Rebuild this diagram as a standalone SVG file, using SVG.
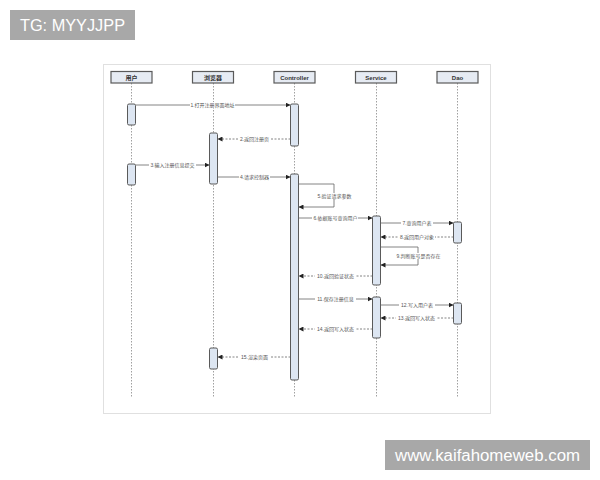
<svg xmlns="http://www.w3.org/2000/svg" width="600" height="480" viewBox="0 0 600 480">
<style>
.hdr{fill:#e6ebf3;stroke:#5a5a5a;stroke-width:1.2}
.ht{font-family:"Liberation Sans","Noto Sans CJK SC",sans-serif;font-size:6px;font-weight:bold;fill:#333;text-anchor:middle}
.life{stroke:#888;stroke-width:0.8;stroke-dasharray:1.5,1.5;fill:none}
.act{fill:#dde6f2;stroke:#5a5a5a;stroke-width:1}
.m{stroke:#666;stroke-width:0.8;fill:none}
.r{stroke:#666;stroke-width:0.8;fill:none;stroke-dasharray:2,1.5}
.lb{font-family:"Liberation Sans","Noto Sans CJK SC",sans-serif;font-size:5px;fill:#555;text-anchor:middle}
.lbg{fill:#fff}
.wm{fill:#a8a8a8}
.wt{font-family:"Liberation Sans",Arial,sans-serif;font-size:16px;fill:#fff}
</style>
<defs>
<marker id="ah" viewBox="0 0 6 6" refX="6" refY="3" markerWidth="5" markerHeight="5" orient="auto" markerUnits="userSpaceOnUse">
<path d="M0,0 L6,3 L0,6 z" fill="#222"/>
</marker>
</defs>
<rect x="0" y="0" width="600" height="480" fill="#fff"/>
<rect x="103.5" y="64.5" width="387" height="349" fill="#fff" stroke="#e0e0e0" stroke-width="1"/>

<g id="lifelines">
<line class="life" x1="131.5" y1="83" x2="131.5" y2="397"/>
<line class="life" x1="213.5" y1="83" x2="213.5" y2="397"/>
<line class="life" x1="294.5" y1="83" x2="294.5" y2="397"/>
<line class="life" x1="376.5" y1="83" x2="376.5" y2="397"/>
<line class="life" x1="457.5" y1="83" x2="457.5" y2="397"/>
</g>

<g id="user">
<rect class="hdr" x="111" y="71.5" width="41" height="11.5"/>
<text class="ht" x="131.5" y="79.5">用户</text>
<rect class="act" x="127.5" y="104" width="8" height="21" rx="1.5"/>
<rect class="act" x="127.5" y="164" width="8" height="21" rx="1.5"/>
</g>
<g id="browser">
<rect class="hdr" x="192.5" y="71.5" width="41" height="11.5"/>
<text class="ht" x="213" y="79.5">浏览器</text>
<rect class="act" x="209.5" y="133" width="8" height="51" rx="1.5"/>
<rect class="act" x="209.5" y="348" width="8" height="21" rx="1.5"/>
</g>
<g id="controller">
<rect class="hdr" x="274" y="71.5" width="41" height="11.5"/>
<text class="ht" x="294.5" y="79.5">Controller</text>
<rect class="act" x="290.5" y="104" width="8" height="42" rx="1.5"/>
<rect class="act" x="290.5" y="174" width="8" height="206" rx="1.5"/>
</g>
<g id="service">
<rect class="hdr" x="355.5" y="71.5" width="41" height="11.5"/>
<text class="ht" x="376" y="79.5">Service</text>
<rect class="act" x="372.5" y="216" width="8" height="69" rx="1.5"/>
<rect class="act" x="372.5" y="297" width="8" height="41" rx="1.5"/>
</g>
<g id="dao">
<rect class="hdr" x="437" y="71.5" width="41" height="11.5"/>
<text class="ht" x="457.5" y="79.5">Dao</text>
<rect class="act" x="453.5" y="222" width="8" height="21" rx="1.5"/>
<rect class="act" x="453.5" y="303" width="8" height="21" rx="1.5"/>
</g>

<g id="connectors">
<line class="m" x1="135.5" y1="105" x2="290.5" y2="105" marker-end="url(#ah)"/>
<rect class="lbg" x="190" y="102" width="45" height="6"/>
<text class="lb" x="212.5" y="106.8">1.打开注册界面地址</text>

<line class="r" x1="290.5" y1="139" x2="217.5" y2="139" marker-end="url(#ah)"/>
<rect class="lbg" x="239" y="136" width="31" height="6"/>
<text class="lb" x="254.5" y="140.8">2.返回注册页</text>

<line class="m" x1="135.5" y1="165" x2="209.5" y2="165" marker-end="url(#ah)"/>
<rect class="lbg" x="149" y="162" width="47" height="6"/>
<text class="lb" x="172.5" y="166.8">3.输入注册信息提交</text>

<line class="m" x1="217.5" y1="177" x2="290.5" y2="177" marker-end="url(#ah)"/>
<rect class="lbg" x="239" y="174" width="31" height="6"/>
<text class="lb" x="254.5" y="178.8">4.请求控制器</text>

<path class="m" d="M298.5,184 H334 V207 H298.5" marker-end="url(#ah)"/>
<rect class="lbg" x="317" y="193" width="35" height="6"/>
<text class="lb" x="334.5" y="197.8">5.验证请求参数</text>

<line class="m" x1="298.5" y1="218" x2="372.5" y2="218" marker-end="url(#ah)"/>
<rect class="lbg" x="312" y="215" width="46" height="6"/>
<text class="lb" x="335.5" y="219.8">6.依据账号查询用户</text>

<line class="m" x1="380.5" y1="223" x2="453.5" y2="223" marker-end="url(#ah)"/>
<rect class="lbg" x="401" y="220" width="32" height="6"/>
<text class="lb" x="417" y="224.8">7.查询用户表</text>

<line class="r" x1="453.5" y1="237" x2="380.5" y2="237" marker-end="url(#ah)"/>
<rect class="lbg" x="399" y="234" width="36" height="6"/>
<text class="lb" x="417" y="238.8">8.返回用户对象</text>

<path class="m" d="M380.5,247 H418 V265 H380.5" marker-end="url(#ah)"/>
<rect class="lbg" x="396" y="253" width="45" height="6"/>
<text class="lb" x="418.5" y="257.8">9.判断账号是否存在</text>

<line class="r" x1="372.5" y1="276" x2="298.5" y2="276" marker-end="url(#ah)"/>
<rect class="lbg" x="315" y="273" width="41" height="6"/>
<text class="lb" x="335.5" y="277.8">10.返回验证状态</text>

<line class="m" x1="298.5" y1="299" x2="372.5" y2="299" marker-end="url(#ah)"/>
<rect class="lbg" x="315" y="296" width="41" height="6"/>
<text class="lb" x="335.5" y="300.8">11.保存注册信息</text>

<line class="m" x1="380.5" y1="305" x2="453.5" y2="305" marker-end="url(#ah)"/>
<rect class="lbg" x="399" y="302" width="36" height="6"/>
<text class="lb" x="417" y="306.8">12.写入用户表</text>

<line class="r" x1="453.5" y1="318" x2="380.5" y2="318" marker-end="url(#ah)"/>
<rect class="lbg" x="396" y="315" width="41" height="6"/>
<text class="lb" x="416.5" y="319.8">13.返回写入状态</text>

<line class="r" x1="372.5" y1="329" x2="298.5" y2="329" marker-end="url(#ah)"/>
<rect class="lbg" x="315" y="326" width="41" height="6"/>
<text class="lb" x="335.5" y="330.8">14.返回写入状态</text>

<line class="r" x1="290.5" y1="357" x2="217.5" y2="357" marker-end="url(#ah)"/>
<rect class="lbg" x="238" y="354" width="33" height="6"/>
<text class="lb" x="254.5" y="358.8">15.渲染页面</text>
</g>

<g id="watermarks">
<rect class="wm" x="10" y="10" width="125" height="30"/>
<text class="wt" x="20" y="31" textLength="105" lengthAdjust="spacingAndGlyphs">TG: MYYJJPP</text>
<rect class="wm" x="385" y="440" width="205" height="30"/>
<text class="wt" x="395" y="461" textLength="185" lengthAdjust="spacingAndGlyphs">www.kaifahomeweb.com</text>
</g>
</svg>
